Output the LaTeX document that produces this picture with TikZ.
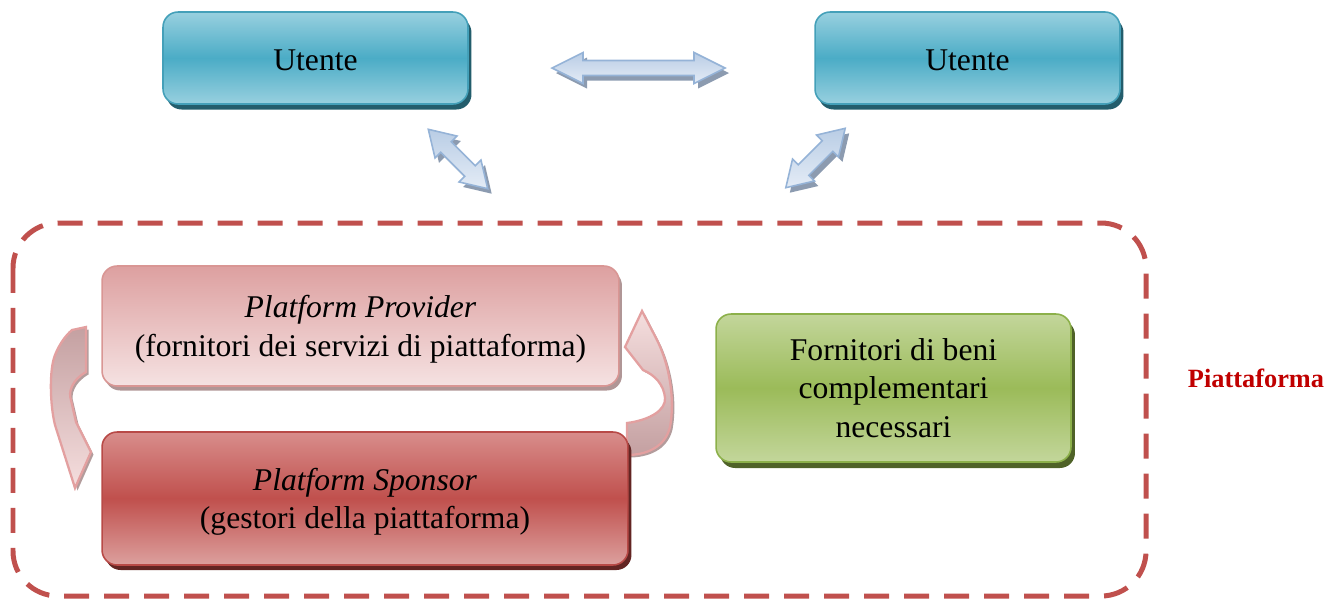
\documentclass[tikz,border=0pt]{standalone}
\usepackage{fontspec}
\setmainfont{Liberation Serif}
\usetikzlibrary{shadows}
\definecolor{tealtop}{HTML}{98D0DF}
\definecolor{tealmid}{HTML}{4BACC6}
\definecolor{tealline}{HTML}{44A0B9}
\definecolor{tealdark}{HTML}{235D6C}
\definecolor{provtop}{HTML}{DDA0A0}
\definecolor{provbot}{HTML}{F5E2E2}
\definecolor{provline}{HTML}{D99694}
\definecolor{provshadow}{HTML}{B09696}
\definecolor{spontop}{HTML}{D88D8B}
\definecolor{sponmid}{HTML}{C0504D}
\definecolor{sponbot}{HTML}{DCA09E}
\definecolor{sponline}{HTML}{B84A47}
\definecolor{spondark}{HTML}{632523}
\definecolor{greentop}{HTML}{C3D69B}
\definecolor{greenmid}{HTML}{9BBB59}
\definecolor{greenline}{HTML}{8CB04A}
\definecolor{greendark}{HTML}{4F6228}
\definecolor{bluetop}{HTML}{B9CDE5}
\definecolor{bluebot}{HTML}{E4ECF6}
\definecolor{blueline}{HTML}{95B3D7}
\definecolor{blueshadow}{HTML}{8C9BB0}
\definecolor{curvline}{HTML}{E3A0A0}
\definecolor{curvgrey}{HTML}{C4A0A1}
\definecolor{curvlight}{HTML}{F5DEDE}
\definecolor{curvshadow}{HTML}{B39C9C}
\definecolor{platred}{HTML}{C0504D}
\definecolor{labelred}{HTML}{C00000}
\begin{document}
\begin{tikzpicture}[x=0.02cm,y=-0.02cm,
  box/.style={rounded corners=0.3cm, inner sep=0pt, align=center,
    font=\fontsize{18}{22}\selectfont, text=black, line width=0.9pt, text depth=0pt},
  utente/.style={box, draw=tealline, top color=tealtop, bottom color=tealtop, middle color=tealmid,
    drop shadow={shadow xshift=0.07cm, shadow yshift=-0.11cm, fill=tealdark, opacity=1},
    minimum width=6.1cm, minimum height=1.84cm, text height=14.5pt},
  provbox/.style={box, draw=provline, top color=provtop, bottom color=provbot,
    drop shadow={shadow xshift=0.06cm, shadow yshift=-0.09cm, fill=provshadow, opacity=1}},
  sponbox/.style={box, draw=sponline, top color=spontop, bottom color=sponbot, middle color=sponmid,
    drop shadow={shadow xshift=0.07cm, shadow yshift=-0.1cm, fill=spondark, opacity=1}},
  greenbox/.style={box, draw=greenline, top color=greentop, bottom color=greentop, middle color=greenmid,
    drop shadow={shadow xshift=0.08cm, shadow yshift=-0.12cm, fill=greendark, opacity=1}},
  bluearrow/.style={draw=blueline, line width=0.9pt, top color=bluetop, bottom color=bluebot},
  blueshade/.style={fill=blueshadow, draw=none},
  curvarrow/.style={draw=curvline, line width=1.3pt,
    drop shadow={shadow xshift=0.05cm, shadow yshift=-0.05cm, fill=curvshadow, opacity=1}},
  platform/.style={draw=platred, line width=0.1cm, dash pattern=on 0.5cm off 0.3cm, rounded corners=0.9cm},
  platlabel/.style={font=\fontsize{15}{18}\selectfont\bfseries, text=labelred, inner sep=0pt},
  pics/bluedbl/.style n args={4}{code={
    \path[pic actions] (-#1/2,0) -- (-#1/2+#2,-#3) -- (-#1/2+#2,-#4) -- (#1/2-#2,-#4)
      -- (#1/2-#2,-#3) -- (#1/2,0) -- (#1/2-#2,#3) -- (#1/2-#2,#4) -- (-#1/2+#2,#4)
      -- (-#1/2+#2,#3) -- cycle;
  }}
]
\useasboundingbox (0,0) rectangle (1341,600);

% platform frame
\draw[platform] (13,223) rectangle (1146,596);
\node[platlabel] (plabel) at (1256,378) {Piattaforma};

% users
\node[utente] (u1) at (315.5,58) {Utente};
\node[utente] (u2) at (967.5,58) {Utente};

% blue double arrows (shadow, then arrow)
\pic[blueshade] at (642.5,73) {bluedbl={173}{31}{15.5}{7.5}};
\pic[bluearrow] (ah) at (638.5,68) {bluedbl={173}{31}{15.5}{7.5}};
\pic[blueshade, rotate=-45] at (462,164) {bluedbl={84}{25}{15.5}{7.5}};
\pic[bluearrow, rotate=-45] (al) at (458,159) {bluedbl={84}{25}{15.5}{7.5}};
\pic[blueshade, rotate=45] at (819.5,163) {bluedbl={84}{25}{15.5}{7.5}};
\pic[bluearrow, rotate=45] (ar) at (815.5,158) {bluedbl={84}{25}{15.5}{7.5}};

% curved arrows
\path[curvarrow, top color=curvgrey, bottom color=curvlight]
  (72,330) -- (86,327) -- (86,372)
  .. controls (72,380) and (68,392) .. (71,400)
  -- (76,422) -- (91,452) -- (75,488) -- (55,425)
  .. controls (50,405) and (49,370) .. (55,355)
  .. controls (59,345) and (65,336) .. (72,330) -- cycle;
\path[curvarrow, top color=curvlight, bottom color=curvgrey]
  (627,423) .. controls (650,420) and (666,410) .. (665,398)
  .. controls (664,385) and (655,375) .. (643,370)
  -- (625,347) -- (642,311) -- (656,338)
  .. controls (670,365) and (675,400) .. (670,427)
  .. controls (665,448) and (645,455) .. (627,455) -- cycle;

% platform boxes
\node[provbox, minimum width=10.34cm, minimum height=2.4cm] (prov) at (360.5,326)
  {\textit{Platform Provider}\\(fornitori dei servizi di piattaforma)};
\node[sponbox, minimum width=10.52cm, minimum height=2.66cm] (spon) at (365,498.5)
  {\textit{Platform Sponsor}\\(gestori della piattaforma)};
\node[greenbox, minimum width=7.1cm, minimum height=2.96cm] (green) at (893.5,388)
  {Fornitori di beni\\complementari\\necessari};
\end{tikzpicture}
\end{document}
